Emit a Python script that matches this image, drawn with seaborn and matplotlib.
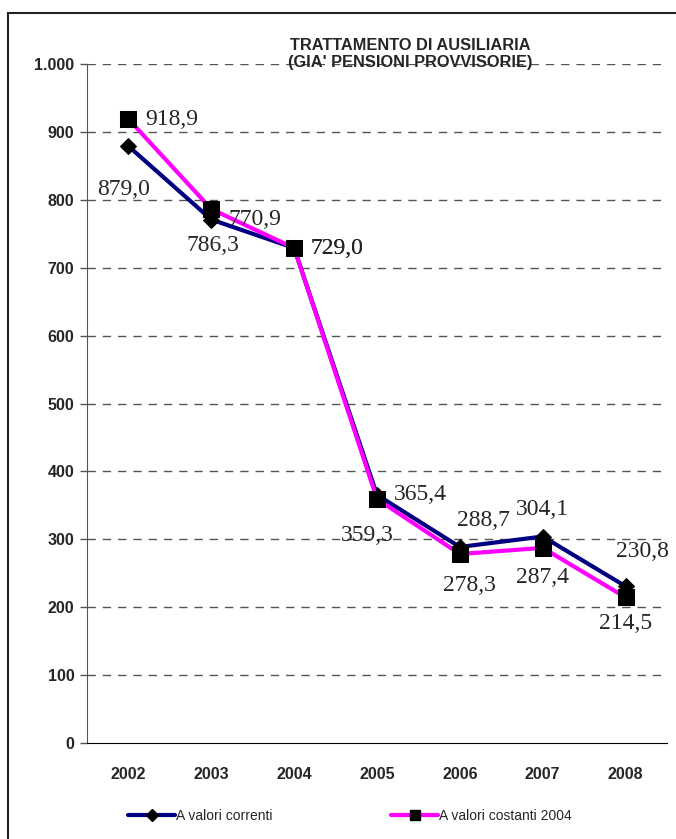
import pandas as pd
import numpy as np
import matplotlib
matplotlib.use("Agg")
import matplotlib.pyplot as plt
from matplotlib import font_manager
from matplotlib.patches import Rectangle
from matplotlib.lines import Line2D
import seaborn as sns

# ---------------------------------------------------------
# DATA
# ---------------------------------------------------------
years = ["2002", "2003", "2004", "2005", "2006", "2007", "2008"]
correnti = [879.0, 770.9, 729.0, 365.4, 288.7, 304.1, 230.8]
costanti = [918.9, 786.3, 729.0, 359.3, 278.3, 287.4, 214.5]
y_ticks = [0, 100, 200, 300, 400, 500, 600, 700, 800, 900, 1000]
y_tick_labels = ["0", "100", "200", "300", "400", "500", "600", "700", "800", "900", "1.000"]
label_correnti = "A valori correnti"
label_costanti = "A valori costanti 2004"
title = "TRATTAMENTO DI AUSILIARIA\n(GIA' PENSIONI PROVVISORIE)"

# label offsets in pixels (placement only)
off_correnti = [(-5, -43), (44, 0), (43, 0), (43, 0), (24, 26), (0, 27), (17, 35)]
off_costanti = [(43, 0), (2, -36), (43, 0), (-10, -36), (10, -31), (0, -30), (0, -26)]

sns.set_style("white")
names = {f.name for f in font_manager.fontManager.ttflist}
sans = "Liberation Sans Narrow" if "Liberation Sans Narrow" in names else "Liberation Sans"
plt.rcParams["font.family"] = [sans, "DejaVu Sans"]
serif = ["Liberation Serif", "DejaVu Serif"]

df = pd.DataFrame({"pos": np.arange(len(years)), "correnti": correnti, "costanti": costanti})

fig = plt.figure(figsize=(6.76, 8.39), dpi=100)
ax = fig.add_axes([87 / 676, 1 - 743 / 839, (667 - 87) / 676, (743 - 64) / 839])

sns.lineplot(data=df, x="pos", y="correnti", ax=ax, color="#000080", lw=3,
             marker="D", markersize=8.5, markerfacecolor="black", markeredgecolor="black",
             legend=False, zorder=3)
sns.lineplot(data=df, x="pos", y="costanti", ax=ax, color="#FF00FF", lw=3,
             marker="s", markersize=11.5, markerfacecolor="black", markeredgecolor="black",
             legend=False, zorder=4)

for vals, offs in [(correnti, off_correnti), (costanti, off_costanti)]:
    for i, (v, o) in enumerate(zip(vals, offs)):
        ax.annotate(f"{v:.1f}".replace(".", ","), (i, v), xytext=o,
                    textcoords="offset pixels", ha="center", va="center",
                    fontsize=17, family=serif, zorder=6)

ax.set_xlim(-0.5, len(years) - 0.5)
ax.set_ylim(0, 1000)
ax.set_yticks(y_ticks)
ax.set_yticklabels(y_tick_labels, fontweight="bold", fontsize=11.5)
ax.set_xticks(np.arange(len(years)))
ax.set_xticklabels(years, fontweight="bold", fontsize=11.5)
ax.set_xticks(np.arange(len(years) + 1) - 0.5, minor=True)
ax.tick_params(axis="x", which="major", length=0, pad=17)
ax.tick_params(axis="x", which="minor", length=5, width=1, direction="out", color="black")
ax.tick_params(axis="y", length=5, width=1, direction="out", color="#555555", pad=4, left=True)
ax.set_xlabel("")
ax.set_ylabel("")

for y in y_ticks[1:]:
    ax.axhline(y, color="#555555", lw=1, ls=(0, (6, 5)), zorder=1)

for s in ["top", "right"]:
    ax.spines[s].set_visible(False)
ax.spines["left"].set_color("#555555")
ax.spines["bottom"].set_color("black")

handles = [
    Line2D([], [], color="#000080", lw=3, marker="D", markersize=6,
           markerfacecolor="black", markeredgecolor="black"),
    Line2D([], [], color="#FF00FF", lw=3, marker="s", markersize=7,
           markerfacecolor="black", markeredgecolor="black"),
]
fig.legend(handles, [label_correnti, label_costanti], loc="center left",
           bbox_to_anchor=(128 / 676, 1 - 816 / 839),
           ncol=2, frameon=False, fontsize=10, handlelength=3.4, handletextpad=0.05,
           columnspacing=8.55, borderpad=0, borderaxespad=0)

fig.text(410 / 676, 1 - 54 / 839, title, ha="center", va="center", fontsize=11.8,
         fontweight="bold", linespacing=1.1)

fig.patches.append(Rectangle((8 / 676, -0.05), 1.2, 1 - 13 / 839 + 0.05, transform=fig.transFigure,
                             fill=False, ec="#222222", lw=1.5, zorder=0))

plt.savefig("out.png", dpi=100)
plt.close()
